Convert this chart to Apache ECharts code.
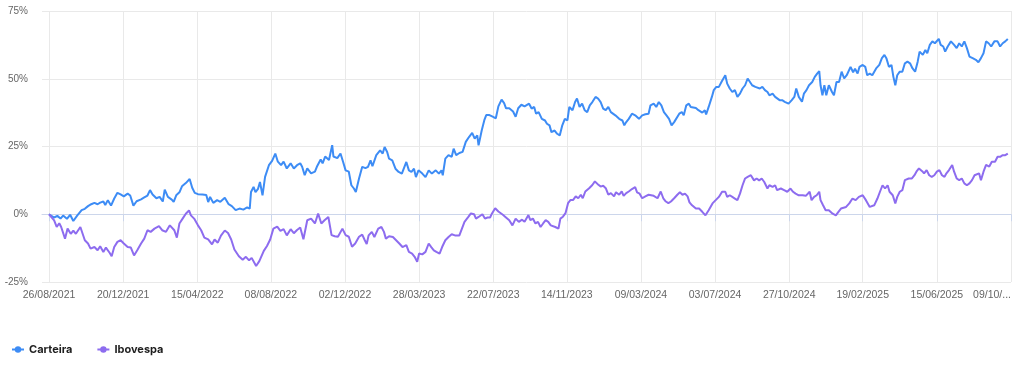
<!DOCTYPE html>
<html><head><meta charset="utf-8">
<script src="https://cdn.jsdelivr.net/npm/echarts@6/dist/echarts.min.js"></script>
<style>html,body{margin:0;padding:0;background:#fff}#c{width:1024px;height:366px}</style>
</head><body><div id="c"></div>
<script>
// first date shown on the axis, and number of calendar days covered
const startYear = 2021, startMonth = 8, startDay = 26;
const padBefore = 11;       // empty days drawn before the first date
const lastDay = 1505;       // 09/10/2025, days after the start
const labelCount = 13;      // intervals between x labels (evenly spaced in time)
const seriesNames = ['Carteira', 'Ibovespa'];
const yMin = -25, yMax = 75, yStep = 25;

// [days since 26/08/2021, % return]
const carteira = [
[0,0],[8,-1.2],[13,-0.6],[18,-1.6],[22,-0.5],[28,-1.7],[33,-0.2],[38,-2.5],[44,-0.5],[51,1.5],[56,2.0],[61,3.0],[66,3.7],[71,4.2],[76,3.7],[80,4.3],[85,4.7],[88,3.4],[92,5.2],[97,3.2],[102,5.8],[107,7.9],[112,7.3],[117,6.6],[123,7.6],[127,6.9],[132,3.2],[137,4.8],[144,5.5],[149,6.2],[154,6.9],[158,8.9],[162,7.3],[168,5.9],[173,6.4],[178,4.7],[181,9.1],[186,6.4],[192,5.4],[195,4.6],[199,7.0],[204,8.1],[208,10.3],[214,11.5],[220,13.0],[224,9.8],[228,7.9],[233,7.4],[240,7.3],[246,7.1],[249,4.5],[252,6.4],
[257,4.2],[263,5.2],[268,4.6],[275,6.1],[281,3.7],[286,3.0],[292,1.5],[298,2.1],[304,1.7],[310,2.5],[314,2.1],[316,8.2],[320,10.1],[323,8.2],[327,9.4],[330,11.9],[334,7.0],[338,13.8],[344,18.1],[349,19.7],[354,22.4],[358,19.4],[363,18.1],[367,19.4],[372,16.9],[378,18.8],[383,16.9],[388,18.1],[393,18.8],[396,17.5],[400,14.4],[404,16.9],[410,15.1],[416,15.7],[419,17.5],[425,20.2],[428,18.8],[432,21.3],[438,20.0],[443,25.5],[445,21.3],[451,20.7],[456,22.4],[460,19.4],[464,16.2],[469,15.7],[473,10.7],[477,9.5],[480,8.2],[485,13.2],[490,17.5],
[495,17.0],[499,17.5],[503,19.9],[506,17.7],[512,21.8],[518,23.6],[522,22.4],[525,24.8],[529,23.0],[532,20.5],[537,19.9],[542,16.8],[547,15.6],[552,15.0],[559,19.3],[563,16.2],[567,15.6],[571,16.8],[574,13.7],[578,16.2],[584,15.0],[589,13.7],[594,16.2],[599,15.0],[605,16.2],[610,15.0],[614,16.2],[616,14.4],[620,20.5],[625,21.8],[630,21.2],[633,24.2],[637,21.8],[642,22.6],[647,23.0],[652,26.7],[657,28.5],[662,30.0],[666,27.9],[670,29.1],[672,25.4],[677,31.0],[681,34.7],[684,36.6],[689,36.6],[694,36.0],[699,35.4],[703,39.8],[708,42.3],[712,41.0],[715,39.1],[720,39.1],[726,37.9],[730,36.0],[734,39.1],[739,40.4],[744,39.8],
[751,40.8],[755,39.0],[759,39.6],[762,37.1],[766,37.7],[771,35.2],[776,34.6],[779,33.4],[783,32.8],[786,30.3],[791,30.9],[795,29.7],[799,29.1],[803,32.8],[807,35.2],[811,34.6],[814,39.6],[819,38.4],[823,41.4],[826,42.7],[830,39.6],[834,40.8],[838,38.4],[842,37.7],[846,40.2],[850,41.4],[855,43.3],[859,42.7],[863,41.4],[867,39.0],[871,38.4],[875,39.6],[879,37.7],[882,38.4],[886,36.5],[892,35.2],[897,34.6],[900,32.8],[903,34.0],[907,35.2],[912,37.1],[917,36.5],[920,35.8],[923,35.2],[928,36.5],[933,36.9],[938,37.1],[941,40.2],[946,40.8],[950,39.6],[954,41.4],[958,40.2],[962,37.7],[966,36.5],[970,35.2],[974,32.8],[978,34.0],[981,34.6],[986,37.1],[990,37.7],[993,36.5],[997,40.2],[1001,40.8],
[1004,39.6],[1007,39.0],[1012,39.2],[1016,38.4],[1019,38.4],[1022,37.5],[1026,38.4],[1028,36.8],[1032,39.6],[1037,43.3],[1040,45.8],[1044,47.0],[1048,47.0],[1052,48.8],[1058,51.3],[1061,48.2],[1065,46.4],[1069,45.1],[1073,45.8],[1077,43.3],[1081,44.5],[1085,46.4],[1089,47.6],[1093,50.1],[1096,50.1],[1100,47.6],[1105,47.0],[1108,47.6],[1112,46.4],[1116,47.0],[1120,45.8],[1124,45.1],[1127,43.9],[1132,44.5],[1136,43.3],[1139,43.9],[1143,42.1],[1147,42.1],[1151,41.5],[1157,40.8],[1162,42.1],[1166,43.3],[1169,46.4],[1173,43.3],[1178,41.5],[1181,44.5],[1185,45.8],[1189,47.6],[1194,48.8],[1198,50.7],[1202,52.0],[1205,52.8],[1207,47.6],[1210,43.9],[1213,47.6],[1216,43.9],[1220,47.6],[1225,45.1],[1228,43.9],[1232,48.8],[1236,48.8],[1240,52.6],[1244,50.1],[1248,51.3],
[1251,51.3],[1254,54.4],[1258,52.4],[1261,53.7],[1265,51.9],[1268,54.4],[1273,55.1],[1277,54.4],[1280,51.3],[1284,51.9],[1288,51.3],[1294,53.8],[1299,55.1],[1303,57.6],[1307,58.8],[1310,57.6],[1314,54.4],[1318,55.1],[1321,50.7],[1324,47.6],[1327,51.3],[1331,52.6],[1335,52.6],[1339,55.7],[1343,56.3],[1347,55.7],[1351,53.8],[1355,52.6],[1359,56.3],[1362,60.0],[1367,58.8],[1371,60.6],[1374,59.4],[1378,62.5],[1382,63.8],[1386,63.1],[1392,64.7],[1395,62.5],[1399,61.9],[1402,60.0],[1406,61.9],[1411,63.8],[1416,62.5],[1420,61.3],[1424,63.1],[1428,61.9],[1432,63.8],[1436,61.3],[1440,58.2],[1445,57.6],[1450,57.0],[1454,56.1],[1458,57.6],[1462,59.4],[1466,63.8],[1470,63.1],[1474,61.9],[1479,63.8],[1484,63.8],[1488,61.9],[1492,63.1],[1496,63.8],[1500,64.7]
];

const ibovespa = [
[0,0],[8,-2.3],[12,-4.7],[16,-3.3],[19,-4.7],[25,-9.0],[29,-5.3],[34,-7.2],[38,-6.0],[42,-7.2],[49,-4.7],[52,-4.7],[56,-9.6],[61,-10.8],[65,-12.7],[71,-12.1],[76,-13.3],[80,-11.8],[85,-13.9],[89,-12.3],[95,-14.3],[98,-15.5],[102,-12.1],[107,-10.2],[112,-9.6],[117,-10.8],[123,-12.1],[128,-12.3],[133,-15.2],[138,-13.3],[144,-10.8],[149,-9.0],[154,-5.9],[159,-6.5],[165,-5.3],[172,-4.4],[177,-5.9],[183,-6.5],[189,-4.1],[196,-5.9],[200,-8.6],[204,-3.4],[209,-1.6],[214,0.2],[219,1.4],[222,-0.4],[227,-1.6],[233,-4.1],[238,-5.9],[243,-8.6],
[249,-9.3],[255,-11.1],[259,-9.3],[264,-10.5],[269,-7.9],[275,-6.0],[280,-6.9],[285,-9.3],[290,-13.0],[297,-15.5],[303,-16.8],[308,-15.7],[313,-17.0],[317,-16.1],[324,-19.1],[329,-17.3],[336,-13.5],[341,-11.7],[346,-9.3],[351,-5.3],[357,-4.6],[362,-6.1],[367,-5.5],[372,-7.8],[378,-5.5],[383,-7.0],[388,-5.8],[393,-4.9],[398,-9.2],[404,-2.2],[410,-1.6],[416,-3.4],[421,0.3],[426,-3.4],[431,-2.2],[437,-1.0],[442,-7.7],[447,-8.1],[452,-8.3],[459,-5.3],[464,-7.7],[469,-8.3],[474,-12.0],[479,-10.8],[485,-8.3],[490,-7.5],[494,-9.6],
[497,-11.0],[500,-7.8],[505,-6.5],[509,-8.4],[515,-5.3],[520,-4.7],[524,-6.5],[527,-9.0],[532,-8.1],[538,-8.4],[543,-9.6],[548,-10.8],[553,-12.1],[559,-11.4],[563,-13.9],[568,-14.5],[572,-15.7],[576,-17.5],[579,-14.5],[584,-14.8],[589,-13.9],[594,-10.8],[598,-12.1],[602,-13.3],[606,-13.9],[611,-14.5],[615,-12.1],[620,-9.6],[625,-8.4],[630,-7.4],[635,-7.8],[638,-7.1],[642,-7.8],[646,-5.3],[650,-2.8],[656,-1.0],[660,0.3],[665,0.0],[668,-1.6],[672,-1.0],[678,0.0],[682,-1.6],[686,-1.2],[690,-1.2],[693,0.3],[698,2.2],[703,1.0],[706,1.6],[710,-0.2],[714,-1.0],[720,-2.2],[725,-4.1],[730,-1.6],[735,-2.8],[740,-2.0],[744,-2.8],
[750,-0.3],[753,-2.2],[757,-1.6],[761,-3.4],[765,-2.8],[769,-4.7],[773,-3.4],[777,-2.2],[781,-2.8],[785,-4.1],[788,-3.4],[792,-4.7],[797,-5.3],[800,-1.6],[804,-0.9],[808,0.4],[812,4.1],[816,5.3],[820,5.3],[824,6.6],[828,5.9],[832,7.2],[835,5.9],[839,8.4],[845,9.6],[850,10.8],[854,12.1],[858,11.2],[863,10.2],[867,10.5],[871,9.6],[875,7.2],[879,7.8],[884,6.6],[887,8.1],[892,7.2],[896,8.4],[899,6.8],[903,7.8],[907,8.4],[912,9.3],[917,10.0],[920,8.1],[924,7.6],[928,5.9],[933,6.6],[938,7.2],[941,6.6],[946,6.8],[952,5.9],[957,8.4],[961,5.9],[965,4.7],[969,4.1],[973,4.7],[978,5.9],[983,7.2],[987,8.1],[991,7.2],[995,7.6],[999,6.6],[1002,4.4],
[1006,3.3],[1012,2.1],[1017,2.1],[1022,0.9],[1027,-0.4],[1032,1.5],[1038,4.0],[1043,5.2],[1048,6.4],[1053,8.3],[1058,8.3],[1061,6.4],[1065,7.0],[1069,6.4],[1073,5.8],[1077,5.2],[1081,7.6],[1085,10.7],[1089,13.2],[1093,13.8],[1098,14.4],[1103,12.5],[1107,13.2],[1111,12.5],[1115,13.2],[1119,11.9],[1124,9.5],[1127,10.7],[1132,10.1],[1136,10.7],[1139,8.9],[1145,9.5],[1150,8.9],[1155,8.3],[1160,9.5],[1164,8.3],[1168,7.6],[1173,7.0],[1179,7.0],[1184,6.8],[1190,8.3],[1193,5.2],[1197,6.4],[1201,7.0],[1205,8.3],[1207,5.2],[1211,3.3],[1215,1.5],[1220,1.5],[1226,0.2],[1231,-0.4],[1235,0.9],[1239,2.1],[1242,1.5],[1247,2.7],
[1252,4.0],[1257,5.8],[1262,5.2],[1267,6.4],[1273,7.0],[1278,5.2],[1284,2.7],[1291,3.3],[1296,5.8],[1300,8.3],[1304,10.7],[1308,9.5],[1312,10.7],[1315,8.3],[1320,7.0],[1324,4.0],[1327,6.4],[1331,8.3],[1335,8.9],[1339,12.6],[1345,13.2],[1350,13.2],[1354,14.4],[1357,15.7],[1361,16.9],[1366,15.9],[1369,15.1],[1373,16.3],[1377,14.4],[1381,13.8],[1385,14.4],[1389,15.7],[1393,16.3],[1397,14.4],[1401,13.8],[1404,15.1],[1408,16.3],[1413,18.2],[1416,15.7],[1420,13.2],[1424,12.6],[1428,13.2],[1432,11.4],[1436,10.7],[1440,11.4],[1444,12.6],[1448,14.4],[1451,13.8],[1455,15.1],[1458,12.6],[1462,15.7],[1466,18.2],[1471,17.6],[1475,19.4],[1480,19.4],[1484,21.2],[1488,21.2],[1492,21.8],[1496,21.8],[1500,22.4]
];

function fmt(d) {
  const dt = new Date(Date.UTC(startYear, startMonth - 1, startDay + d));
  const p = n => String(n).padStart(2, '0');
  return p(dt.getUTCDate()) + '/' + p(dt.getUTCMonth() + 1) + '/' + dt.getUTCFullYear();
}
const categories = [];
for (let d = -padBefore; d <= lastDay; d++) categories.push(fmt(d));
const lastIdx = categories.length - 1;
const tickIdx = new Set();
for (let k = 0; k <= labelCount; k++) tickIdx.add(padBefore + Math.round(k * lastDay / labelCount));
const showAt = (idx) => tickIdx.has(idx);

const chart = echarts.init(document.getElementById('c'), null, {renderer: 'canvas'});
chart.setOption({
  animation: false,
  grid: {left: 42, right: 13, top: 11, bottom: 84, containLabel: false},
  legend: {
    left: 11, top: 344, padding: 0, itemWidth: 12, itemHeight: 8, itemGap: 24,
    textStyle: {fontFamily: 'Inter', fontWeight: 'bold', fontSize: 11, color: '#1e1e1e'},
    data: seriesNames
  },
  xAxis: {
    type: 'category', boundaryGap: false, data: categories,
    axisLine: {lineStyle: {color: '#ccd6eb', width: 1}},
    axisTick: {show: true, interval: showAt, length: 7, lineStyle: {color: '#ccd6eb'}},
    splitLine: {show: true, interval: showAt, lineStyle: {color: '#e9e9e9', width: 1}},
    axisLabel: {
      interval: showAt, color: '#666', fontSize: 10.5, margin: 8,
      fontFamily: 'Liberation Sans', alignMaxLabel: 'right',
      formatter: (v, i) => i === lastIdx ? v.slice(0, 6) + '...' : v
    }
  },
  yAxis: {
    type: 'value', min: yMin, max: yMax, interval: yStep,
    axisLine: {show: false}, axisTick: {show: false},
    splitLine: {lineStyle: {color: '#e9e9e9', width: 1}},
    axisLabel: {formatter: '{value}%', color: '#666', fontSize: 10, margin: 14, fontFamily: 'Liberation Sans'}
  },
  series: [
    {name: seriesNames[0], type: 'line', symbol: 'circle', showSymbol: false, sampling: null,
     color: '#3d8cf5', lineStyle: {width: 2, color: '#3d8cf5'},
     data: carteira.map(([d, v]) => [fmt(d), v])},
    {name: seriesNames[1], type: 'line', symbol: 'circle', showSymbol: false, sampling: null,
     color: '#8d6cef', lineStyle: {width: 2, color: '#8d6cef'},
     data: ibovespa.map(([d, v]) => [fmt(d), v])}
  ]
});
</script>
</body></html>
